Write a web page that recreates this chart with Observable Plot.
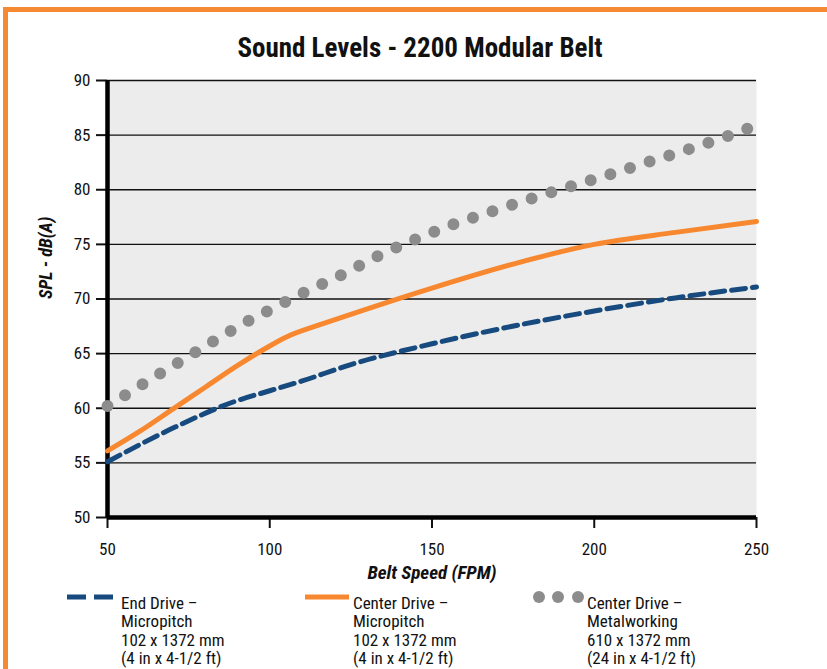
<!DOCTYPE html>
<html>
<head>
<meta charset="utf-8">
<script src="https://cdn.jsdelivr.net/npm/d3@7"></script>
<script src="https://cdn.jsdelivr.net/npm/@observablehq/plot@0.6"></script>
<style>
  html, body { margin: 0; padding: 0; background: #fff; }
  body { width: 827px; height: 669px; position: relative; overflow: hidden;
         font-family: "Roboto Condensed", Roboto, sans-serif; }
  #frame { position: absolute; left: 3px; top: 7px; width: 900px; height: 800px;
           border: 5px solid #f68a33; box-sizing: border-box; }
  #title { position: absolute; left: 0; width: 840px; top: 32px; text-align: center;
           font-size: 27px; font-weight: bold; color: #111; line-height: 32px; }
  #chart { position: absolute; left: 0; top: 0; }
  .leg { position: absolute; top: 594px; font-size: 17px; line-height: 18.3px; color: #111; }
  .leg div { white-space: nowrap; }
  .sw { position: absolute; }
</style>
</head>
<body>
<div id="frame"></div>
<div id="title"></div>
<div id="chart"></div>
<div id="legend"></div>
<script>
// ---- data ----
const titleText = "Sound Levels - 2200 Modular Belt";
const xLabel = "Belt Speed (FPM)";
const yLabel = "SPL - dB(A)";
const xTicks = [50, 100, 150, 200, 250];
const yTicks = [50, 55, 60, 65, 70, 75, 80, 85, 90];

const endDriveX = [50, 71, 89, 100, 110, 125, 150, 165, 200, 225, 250];
const endDriveY = [55.1, 58.3, 60.6, 61.6, 62.5, 64.0, 65.9, 66.9, 68.9, 70.1, 71.1];

const centerMicroX = [50, 60, 70, 80, 90, 100, 105, 115, 125, 150, 175, 200, 225, 250];
const centerMicroY = [56.1, 57.9, 59.9, 61.9, 63.9, 65.7, 66.5, 67.6, 68.6, 71.0, 73.2, 75.0, 76.1, 77.1];

const centerMetalX = [50, 61.4, 72.5, 83.6, 94.7, 100, 111.3, 122.7, 133.8, 145.2, 156.3, 168.3, 180.7, 192.7, 204.7, 217.3, 230, 242.9, 250];
const centerMetalY = [60.2, 62.3, 64.3, 66.3, 68.2, 69.0, 70.7, 72.3, 74.0, 75.5, 76.8, 78.0, 79.2, 80.3, 81.4, 82.6, 83.8, 85.1, 85.9];

const legendLabels = [
  ["End Drive –", "Micropitch", "102 x 1372 mm", "(4 in x 4-1/2 ft)"],
  ["Center Drive –", "Micropitch", "102 x 1372 mm", "(4 in x 4-1/2 ft)"],
  ["Center Drive –", "Metalworking", "610 x 1372 mm", "(24 in x 4-1/2 ft)"]
];

// ---- build tables ----
const endDrive = endDriveX.map((x, i) => ({x, y: endDriveY[i]}));
const centerMicro = centerMicroX.map((x, i) => ({x, y: centerMicroY[i]}));
const centerMetal = centerMetalX.map((x, i) => ({x, y: centerMetalY[i]}));

const FONT = '"Roboto Condensed", Roboto, sans-serif';
const BLUE = "#174a7e", ORANGE = "#f7882f", GRAY = "#8c8c8c";

document.getElementById("title").textContent = titleText;

const chart = Plot.plot({
  width: 827,
  height: 590,
  marginLeft: 107,
  marginRight: 71,
  marginTop: 80,
  marginBottom: 73,
  style: {fontFamily: FONT, fontSize: "17px", color: "#111", background: "transparent"},
  x: {domain: [50, 250]},
  y: {domain: [50, 90]},
  marks: [
    Plot.frame({fill: "#ececec", stroke: "none"}),
    Plot.gridY(yTicks, {stroke: "#111", strokeOpacity: 1, strokeWidth: 1.3}),
    Plot.axisY(yTicks, {tickSize: 11, tickPadding: 6, strokeWidth: 2, fontSize: 17, label: null}),
    Plot.axisX(xTicks, {tickSize: 11, tickPadding: 14, strokeWidth: 2, fontSize: 17, label: null}),
    Plot.ruleX([50], {stroke: "#000", strokeWidth: 4.5}),
    Plot.ruleY([50], {stroke: "#000", strokeWidth: 4.5}),
    Plot.line(centerMetal, {x: "x", y: "y", curve: "monotone-x", stroke: GRAY, strokeWidth: 12,
      strokeLinecap: "round", strokeDasharray: "0 20.6"}),
    Plot.line(centerMicro, {x: "x", y: "y", curve: "monotone-x", stroke: ORANGE, strokeWidth: 5}),
    Plot.line(endDrive, {x: "x", y: "y", curve: "monotone-x", stroke: BLUE, strokeWidth: 5,
      strokeDasharray: "14 7"}),
    Plot.text([yLabel], {frameAnchor: "left", dx: -61, rotate: -90, fontWeight: "bold",
      fontStyle: "italic", fontSize: 18, fill: "#111"}),
    Plot.text([xLabel], {frameAnchor: "bottom", dy: 61, fontWeight: "bold",
      fontStyle: "italic", fontSize: 19, fill: "#111"})
  ]
});
document.getElementById("chart").appendChild(chart);

// ---- legend ----
const legend = document.getElementById("legend");
const swatches = [
  `<svg class="sw" style="left:66px;top:590px" width="50" height="14"><line x1="1" y1="7" x2="47" y2="7" stroke="${BLUE}" stroke-width="5" stroke-dasharray="19 8"/></svg>`,
  `<svg class="sw" style="left:304px;top:590px" width="46" height="14"><line x1="1" y1="7" x2="45" y2="7" stroke="${ORANGE}" stroke-width="5"/></svg>`,
  `<svg class="sw" style="left:530px;top:589px" width="56" height="16">` +
    [9, 28, 48].map(cx => `<circle cx="${cx}" cy="8" r="6" fill="${GRAY}"/>`).join("") + `</svg>`
];
const textLeft = [121, 353, 587];
legendLabels.forEach((lines, i) => {
  legend.insertAdjacentHTML("beforeend", swatches[i]);
  const d = document.createElement("div");
  d.className = "leg";
  d.style.left = textLeft[i] + "px";
  d.innerHTML = lines.map(s => `<div>${s}</div>`).join("");
  legend.appendChild(d);
});
</script>
</body>
</html>
